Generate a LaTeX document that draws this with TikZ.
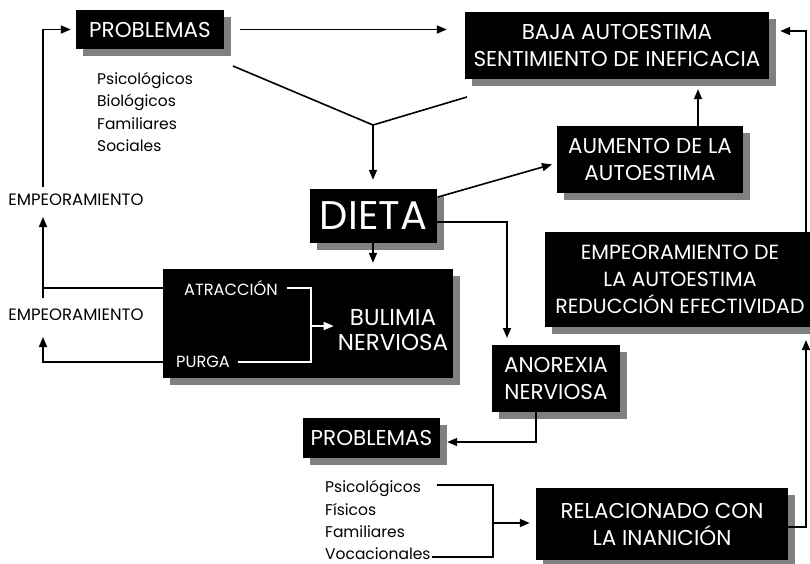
\documentclass[tikz,border=0pt]{standalone}
\usepackage{fontspec}
\setmainfont{Poppins}
\usetikzlibrary{arrows.meta,shadows}
\begin{document}
\begin{tikzpicture}[x=1pt,y=-1pt,
  box/.style={fill=black,text=white,align=center,inner sep=0pt,
    font=\fontsize{21.5}{27}\selectfont,
    drop shadow={shadow xshift=6.5pt,shadow yshift=-6.5pt,fill=black!50,opacity=1}},
  small/.style={font=\fontsize{16.5}{18}\selectfont,inner sep=0pt},
  listtxt/.style={font=\fontsize{15.5}{20}\selectfont,inner sep=0pt,anchor=base west},
  wtxt/.style={text=white,font=\fontsize{16.2}{18}\selectfont,inner sep=0pt,anchor=base west},
  line/.style={line width=1.6pt},
  arr/.style={line width=1.6pt,-{Triangle[length=10pt,width=8pt]}},
  wline/.style={line width=1.6pt,white},
  warr/.style={line width=1.6pt,white,-{Triangle[length=10pt,width=8pt]}}]
\useasboundingbox[fill=white] (0,0) rectangle (810,563);

% boxes
\node[box,minimum width=148pt,minimum height=39pt] (prob1) at (150,29.5) {PROBLEMAS};
\node[box,minimum width=304pt,minimum height=67pt] (baja) at (617,45.5) {BAJA AUTOESTIMA\\SENTIMIENTO DE INEFICACIA};
\node[box,minimum width=186pt,minimum height=67pt] (aum) at (650,159.5) {AUMENTO DE LA\\AUTOESTIMA};
\node[box,minimum width=127pt,minimum height=54pt,font=\fontsize{40}{44}\selectfont] (dieta) at (373.5,216) {DIETA};
\node[box,minimum width=290pt,minimum height=109pt] (bul) at (308,323.5) {};
\node[box,minimum width=270pt,minimum height=95pt,font=\fontsize{20.5}{27}\selectfont] (emp) at (680,279.5) {EMPEORAMIENTO DE\\LA AUTOESTIMA\\REDUCCIÓN EFECTIVIDAD};
\node[box,minimum width=128pt,minimum height=67pt] (anor) at (556,378.5) {ANOREXIA\\NERVIOSA};
\node[box,minimum width=137pt,minimum height=40pt] (prob2) at (371.5,438) {PROBLEMAS};
\node[box,minimum width=252pt,minimum height=72pt] (rel) at (662,524) {RELACIONADO CON\\LA INANICIÓN};

% inside bulimia box
\node[wtxt] (atr) at (184,295.5) {ATRACCIÓN};
\node[wtxt] (purga) at (176,367.5) {PURGA};
\node[text=white,align=center,inner sep=0pt,font=\fontsize{23}{25}\selectfont] (bn) at (393,330) {BULIMIA\\NERVIOSA};

% lists
\node[listtxt] (t1) at (97,84) {Psicológicos};
\node[listtxt] (t2) at (97,106) {Biológicos};
\node[listtxt] (t3) at (97,129) {Familiares};
\node[listtxt] (t4) at (97,151) {Sociales};
\node[listtxt] (l1) at (325,492) {Psicológicos};
\node[listtxt] (l2) at (325,515) {Físicos};
\node[listtxt] (l3) at (325,537) {Familiares};
\node[listtxt] (l4) at (325,559) {Vocacionales};

% labels
\node[small] (e1) at (76,200) {EMPEORAMIENTO};
\node[small] (e2) at (76,315) {EMPEORAMIENTO};

% coordinates
\coordinate (va) at (233,66);
\coordinate (vb) at (467,97);
\coordinate (vj) at (373,125);
\coordinate (ds) at (438,197);
\coordinate (dr) at (437,222);
\coordinate (an) at (507,338);
\coordinate (jb) at (311,326);
\coordinate (ltop) at (43,187);
\coordinate (k1) at (43,288);
\coordinate (k1s) at (43,298);
\coordinate (k1t) at (43,217);
\coordinate (k2) at (43,362);
\coordinate (k2t) at (43,337);
\coordinate (bt) at (437,485);
\coordinate (bb) at (432,557);
\coordinate (jr) at (493,523);
\coordinate (rt) at (806,31);
\coordinate (rb) at (806,340);

% connectors
\draw[arr,shorten <=16pt,shorten >=18pt] (prob1.east) -- (prob1.east -| baja.west);
\draw[line] (va) -- (vj) -- (vb);
\draw[arr,shorten >=9pt] (vj) -- (vj |- dieta.north);
\draw[arr,shorten >=5pt] (ds) -- ([yshift=-3.5pt]aum.west);
\draw[arr,shorten >=10pt] (aum.north -| 698,0) -- (baja.south -| 698,0);
\draw[arr] (dr) -| (an);
\draw[arr,shorten >=6pt] (dieta.south -| vj) -- (bul.north -| vj);
% bulimia inside
\draw[wline] ([xshift=9pt]atr.east) -| (jb) |- ([xshift=8pt]purga.east);
\draw[warr,shorten >=4pt] (jb) -- (bn.west |- jb);
% left side
\draw[arr,shorten >=5pt] (ltop) |- (prob1.west);
\draw[line] (bul.west |- k1) -- (k1);
\draw[arr] (k1s) -- (k1t);
\draw[arr] (bul.west |- k2) -| (k2t);
% anorexia -> problemas
\draw[arr,shorten >=7pt] ([xshift=-20pt]anor.south) |- ([yshift=-4pt]prob2.east);
% bottom bracket
\draw[line] (bt) -| (jr) |- (bb);
\draw[arr,shorten >=6pt] (jr) -- (rel.west |- jr);
% right side
\draw[arr] ([yshift=-3pt]rel.east) -| (rb);
\draw[arr,shorten >=11pt] (emp.north -| rt) -- (rt) -- (rt -| baja.east);
\end{tikzpicture}
\end{document}
